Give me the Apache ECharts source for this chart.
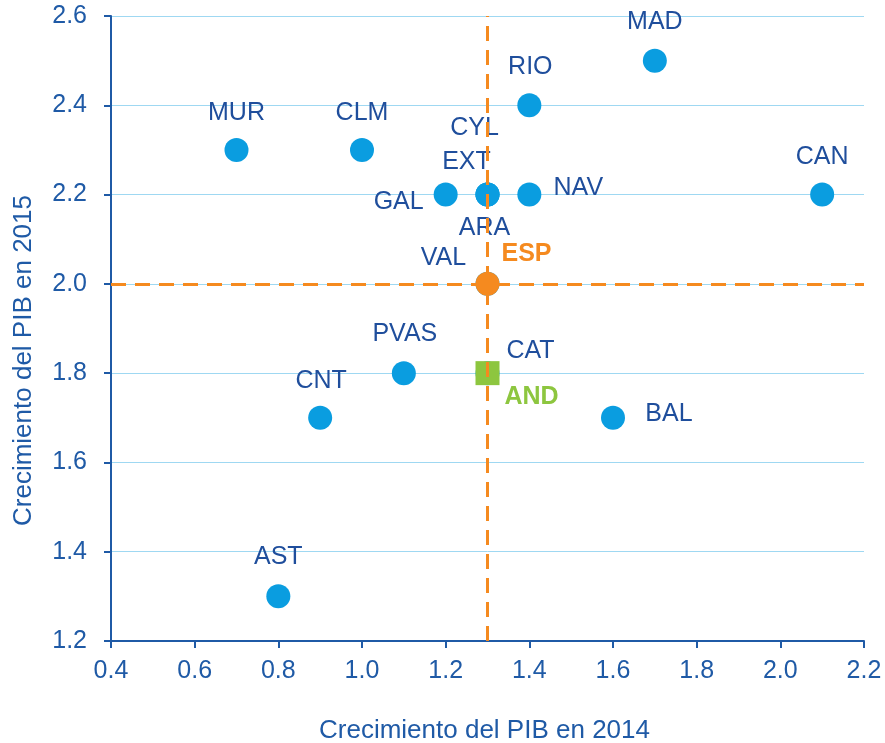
<!DOCTYPE html>
<html><head><meta charset="utf-8">
<script src="https://cdn.jsdelivr.net/npm/echarts@6/dist/echarts.min.js"></script>
<style>html,body{margin:0;padding:0;background:#fff}#c{width:885px;height:743px}</style>
</head><body><div id="c"></div>
<script>
// Data
const regions = ['MUR','CLM','MAD','RIO','CAN','CYL','EXT','ARA','GAL','NAV','VAL','PVAS','CAT','CNT','BAL','AST'];
const gdp2014 = [0.7, 1.0, 1.7, 1.4, 2.1, 1.3, 1.3, 1.3, 1.2, 1.4, 1.3, 1.1, 1.3, 0.9, 1.6, 0.8];
const gdp2015 = [2.3, 2.3, 2.5, 2.4, 2.2, 2.2, 2.2, 2.2, 2.2, 2.2, 2.0, 1.8, 1.8, 1.7, 1.7, 1.3];
const espName = 'ESP', esp2014 = 1.3, esp2015 = 2.0;
const andName = 'AND', and2014 = 1.3, and2015 = 1.8;
const xTicks = [0.4, 0.6, 0.8, 1.0, 1.2, 1.4, 1.6, 1.8, 2.0, 2.2];
const yTicks = [1.2, 1.4, 1.6, 1.8, 2.0, 2.2, 2.4, 2.6];

// label offsets (style)
const labelOffsets = {
  MUR:[0,-37], CLM:[0,-37], MAD:[0,-39], RIO:[1,-38], CAN:[0,-37],
  CYL:[-13,-66], EXT:[-21,-32], ARA:[-3,34], GAL:[-47,8], NAV:[49,-6],
  VAL:[-44,-26], PVAS:[1,-39], CAT:[43,-22], CNT:[1,-37], BAL:[56,-4], AST:[0,-39],
  ESP:[39,-30], AND:[44,24]
};
const fontFam = '"Liberation Sans", Arial, sans-serif';
const labelBlue = '#1F4E9C';
const axisBlue = '#1F5AA6';

const chart = echarts.init(document.getElementById('c'));
const blueData = regions.map((n,i)=>({
  name:n, value:[gdp2014[i], gdp2015[i]],
  label:{show:true, formatter:n, position:'inside', offset:labelOffsets[n]}
}));

chart.setOption({
  animation:false,
  grid:{left:111, right:21, top:16, bottom:102, outerBoundsMode:'none', containLabel:false},
  xAxis:{
    type:'value', min:xTicks[0], max:xTicks[xTicks.length-1], interval:0.2,
    name:'Crecimiento del PIB en 2014', nameLocation:'middle', nameGap:77,
    nameTextStyle:{color:axisBlue, fontSize:26, fontFamily:fontFam, padding:[0,6,0,0]},
    axisLine:{show:true, onZero:false, lineStyle:{color:axisBlue, width:2}},
    axisTick:{show:true, length:7, lineStyle:{color:axisBlue, width:2}},
    axisLabel:{color:axisBlue, fontSize:25, fontFamily:fontFam, margin:18, formatter:v=>v.toFixed(1)},
    splitLine:{show:false}
  },
  yAxis:{
    type:'value', min:yTicks[0], max:yTicks[yTicks.length-1], interval:0.2,
    name:'Crecimiento del PIB en 2015', nameLocation:'middle', nameGap:74,
    nameTextStyle:{color:axisBlue, fontSize:26, fontFamily:fontFam, padding:[0,64,0,0]},
    axisLine:{show:true, onZero:false, lineStyle:{color:axisBlue, width:2}},
    axisTick:{show:true, length:7, lineStyle:{color:axisBlue, width:2}},
    axisLabel:{color:axisBlue, fontSize:25, fontFamily:fontFam, margin:24, formatter:v=>v.toFixed(1)},
    splitLine:{show:true, lineStyle:{color:'#9FD8F2', width:1}}
  },
  series:[
    {
      type:'scatter', z:2, symbol:'circle', symbolSize:24,
      itemStyle:{color:'#0A9DE0', opacity:1},
      label:{color:labelBlue, fontSize:25, fontFamily:fontFam},
      data:blueData
    },
    {
      type:'scatter', z:2, symbol:'rect', symbolSize:24,
      itemStyle:{color:'#8DC63F', opacity:1},
      label:{show:true, position:'inside', offset:labelOffsets.AND, formatter:andName, color:'#8DC63F', fontSize:25, fontWeight:'bold', fontFamily:fontFam},
      data:[[and2014, and2015]]
    },
    {
      type:'line', z:3, data:[], silent:true,
      markLine:{
        silent:true, symbol:'none', label:{show:false},
        lineStyle:{color:'#F58A1F', width:3, type:[15,9]},
        data:[{xAxis:esp2014},{yAxis:esp2015}]
      }
    },
    {
      type:'scatter', z:4, symbol:'circle', symbolSize:24,
      itemStyle:{color:'#F58A1F', opacity:1},
      label:{show:true, position:'inside', offset:labelOffsets.ESP, formatter:espName, color:'#F58A1F', fontSize:25, fontWeight:'bold', fontFamily:fontFam},
      data:[[esp2014, esp2015]]
    }
  ]
});
</script></body></html>
